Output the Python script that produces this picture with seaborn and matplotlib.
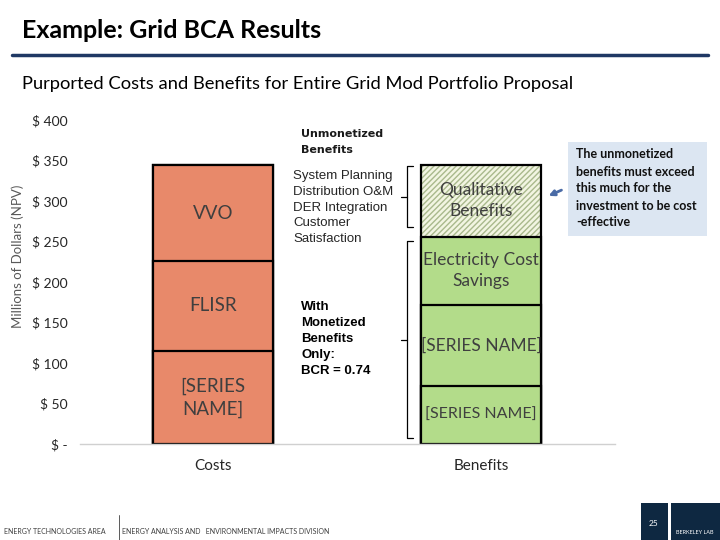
#%% LIBS
import numpy as np
import pandas as pd
import matplotlib.pyplot as plt
from matplotlib.patches import Rectangle
import seaborn as sns

#%% DATA
categories = ["Costs", "Benefits"]
cost_labels = ["[SERIES\nNAME]", "FLISR", "VVO"]
cost_values = [115, 111, 118]
benefit_labels = ["[SERIES NAME]", "[SERIES NAME]", "Electricity Cost\nSavings", "Qualitative\nBenefits"]
benefit_values = [71, 101, 84, 89]
y_ticks = [0, 50, 100, 150, 200, 250, 300, 350, 400]
y_ticklabels = ["$ -", "$ 50", "$ 100", "$ 150", "$ 200", "$ 250", "$ 300", "$ 350", "$ 400"]
bcr = 0.74

#%% AES
sns.set_theme(style="white")
plt.rcParams['font.family'] = ['Lato', 'DejaVu Sans']
COST_C = '#E8896A'
BEN_C = '#B3DC8A'
QUAL_C = '#F2F5E2'
HATCH_C = '#A9B98C'
NAVY = '#1F3864'
TXT = '#3F3F3F'

W, H = 720, 540
fig = plt.figure(figsize=(7.2, 5.4), dpi=100)
ax = fig.add_axes([80 / W, 1 - 444 / H, 535 / W, 324 / H])

def fpx(x, y):
    # figure pixels (top-left origin) -> figure fraction
    return x / W, 1 - y / H

#%% STACKED BARS (layered cumulative totals, tallest first)
cost_cum = np.cumsum(cost_values)
ben_cum = np.cumsum(benefit_values)
n_layers = len(benefit_values)
for i in reversed(range(n_layers)):
    c_top = cost_cum[min(i, len(cost_cum) - 1)]
    b_top = ben_cum[i]
    df = pd.DataFrame({"cat": categories, "val": [c_top, b_top]})
    ben_col = QUAL_C if i == n_layers - 1 else BEN_C
    n_before = len(ax.patches)
    sns.barplot(data=df, x="cat", y="val", hue="cat", palette=[COST_C, ben_col],
                width=0.45, edgecolor="black", linewidth=1.6, legend=False,
                saturation=1, ax=ax)
    if i == n_layers - 1:
        p = ax.patches[n_before + 1]
        p.set_hatch('//////')
        p.set_edgecolor(HATCH_C)
        p.set_linewidth(0)
        ax.add_patch(Rectangle((p.get_x(), p.get_y()), p.get_width(), p.get_height(),
                               fill=False, edgecolor='black', linewidth=1.6))

#%% SEGMENT LABELS
cost_mid = cost_cum - np.array(cost_values) / 2
ben_mid = ben_cum - np.array(benefit_values) / 2
for lab, y in zip(cost_labels, cost_mid):
    ax.text(0, y, lab, ha='center', va='center', fontsize=13.5, color=TXT, linespacing=1.4)
for k, (lab, y) in enumerate(zip(benefit_labels, ben_mid)):
    ax.text(1, y, lab, ha='center', va='center', fontsize=11.5 if k == 0 else 12.5,
            color=TXT, linespacing=1.35)

#%% AXES FORMAT
ax.set_xlim(-0.496, 1.5)
ax.set_ylim(0, 400)
ax.set_yticks(y_ticks)
ax.set_yticklabels(y_ticklabels)
ax.tick_params(axis='y', length=0, pad=9, labelsize=10, labelcolor='#262626')
ax.tick_params(axis='x', length=0, pad=11, labelsize=11, labelcolor='#262626')
ax.set_xlabel("")
ax.set_ylabel("")
for s in ['top', 'right', 'left']:
    ax.spines[s].set_visible(False)
ax.spines['bottom'].set_color('#D0D0D0')
ax.spines['bottom'].set_linewidth(1)
ax.grid(False)

#%% BRACKETS
total = ben_cum[-1]
monet = ben_cum[-2]
def bracket(y0, y1, x=0.724, tick=0.022):
    ax.plot([x + tick, x, x, x + tick], [y1, y1, y0, y0], color='black', lw=0.9, clip_on=False)
    ym = (y0 + y1) / 2
    ax.plot([x - tick, x], [ym, ym], color='black', lw=0.9, clip_on=False)
bracket(monet + 12, total - 2)
bracket(7, monet - 5)

#%% ANNOTATION TEXT
fig.text(*fpx(301, 142), "Unmonetized\nBenefits", ha='left', va='center', fontsize=8,
         fontweight='bold', family='DejaVu Sans', color='#1a1a1a', linespacing=1.75)
fig.text(*fpx(293, 207.5), "System Planning\nDistribution O&M\nDER Integration\nCustomer\nSatisfaction",
         ha='left', va='center', fontsize=9.5, family='Liberation Sans', color='#262626',
         linespacing=1.42)
fig.text(*fpx(301, 339), f"With\nMonetized\nBenefits\nOnly:\nBCR = {bcr:.2f}",
         ha='left', va='center', fontsize=9.5, fontweight='bold', family='Liberation Sans',
         color='black', linespacing=1.45)

# callout box
x0, y0 = fpx(568, 236)
fig.add_artist(Rectangle((x0, y0), 139 / W, 94 / H, transform=fig.transFigure,
                         facecolor='#DCE6F2', edgecolor='none'))
fig.text(*fpx(576, 188.5), "The unmonetized\nbenefits must exceed\nthis much for the\ninvestment to be cost\n-effective",
         ha='left', va='center', fontsize=9, fontweight='bold', color='#111111', linespacing=1.5)
ax.annotate("", xy=fpx(546, 197), xytext=fpx(564, 189), xycoords='figure fraction',
            textcoords='figure fraction',
            arrowprops=dict(arrowstyle='-|>', color='#4A6BA6', lw=2, mutation_scale=8))

#%% TITLE / HEADER
fig.text(*fpx(22, 30), "Example: Grid BCA Results", ha='left', va='center', fontsize=18,
         fontweight='bold', color='black')
fig.add_artist(plt.Line2D([12 / W, 708 / W], [1 - 55 / H] * 2, transform=fig.transFigure,
                          color=NAVY, lw=2.5))
fig.text(*fpx(22, 84), "Purported Costs and Benefits for Entire Grid Mod Portfolio Proposal",
         ha='left', va='center', fontsize=13.2, color='black')
fig.text(*fpx(18, 256), "Millions of Dollars (NPV)", rotation=90, ha='center', va='center',
         fontsize=9.5, color='#595959')

#%% FOOTER
fig.text(*fpx(4, 532), "ENERGY TECHNOLOGIES AREA", ha='left', va='center', fontsize=5,
         color='#404040')
fig.add_artist(plt.Line2D([119 / W] * 2, [1 - 515 / H, 0], transform=fig.transFigure,
                          color='#404040', lw=0.6))
fig.text(*fpx(122, 532), "ENERGY ANALYSIS AND   ENVIRONMENTAL IMPACTS DIVISION", ha='left',
         va='center', fontsize=5, color='#404040')
bx, by = fpx(641, 540)
fig.add_artist(Rectangle((bx, by), 27 / W, 37 / H, transform=fig.transFigure,
                         facecolor='#0E2841', edgecolor='none'))
fig.text(*fpx(654, 524), "25", ha='center', va='center', fontsize=6, color='white')
bx, by = fpx(671, 540)
fig.add_artist(Rectangle((bx, by), 49 / W, 37 / H, transform=fig.transFigure,
                         facecolor='#0E2841', edgecolor='none'))
fig.text(*fpx(695, 533), "BERKELEY LAB", ha='center', va='center', fontsize=4, color='white')

fig.savefig("out.png", dpi=100)
